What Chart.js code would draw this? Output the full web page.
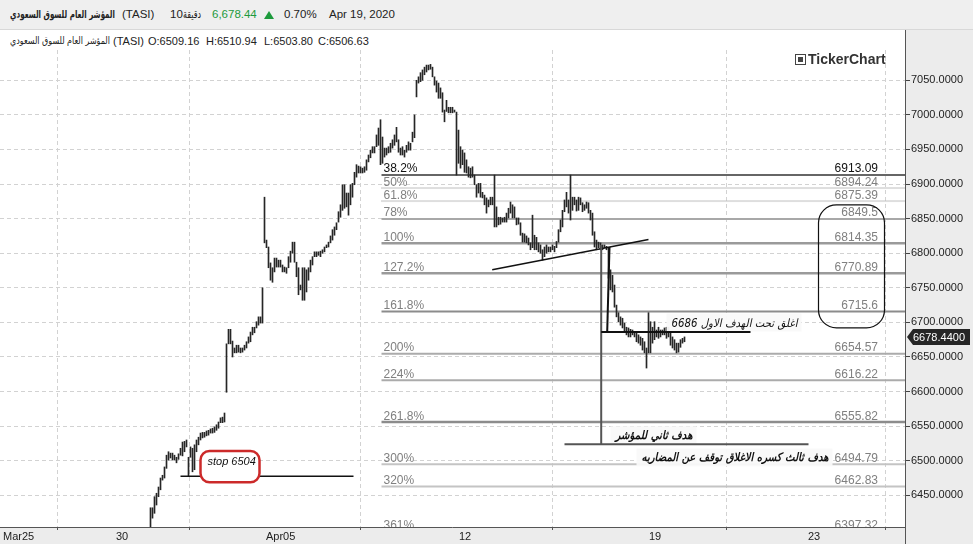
<!DOCTYPE html>
<html>
<head>
<meta charset="utf-8">
<script src="https://cdn.jsdelivr.net/npm/chart.js@4.4.1/dist/chart.umd.min.js"></script>
<style>
  html, body { margin: 0; padding: 0; background: #fff; }
  body { width: 973px; height: 544px; position: relative; overflow: hidden; font-family: "Liberation Sans", Arial, sans-serif; color: #222; }
  canvas { position: absolute; left: 0; top: 0; }
  #bar1 { position: absolute; left: 0; top: 0; width: 973px; height: 30px; background: #efefef; border-bottom: 1px solid #d8d8d8; box-sizing: border-box; }
  #bar2 { position: absolute; left: 0; top: 30px; width: 905px; height: 20px; background: #fff; }
  .t { position: absolute; white-space: nowrap; transform-origin: 0 50%; }
  .h1 { top: 8px; font-size: 11.5px; }
  .h2 { top: 35px; font-size: 11px; }
  .ar { font-family: "DejaVu Sans", sans-serif; }
  #tri { position: absolute; left: 264px; top: 11px; width: 0; height: 0; border-left: 5px solid transparent; border-right: 5px solid transparent; border-bottom: 8px solid #1d9a3c; }
  #logo { position: absolute; left: 808px; top: 51px; font-size: 14px; font-weight: bold; color: #333; }
  #icon { position: absolute; left: 795px; top: 54px; width: 9px; height: 9px; border: 1px solid #444; }
  #icon:after { content: ""; position: absolute; left: 2px; top: 2px; width: 5px; height: 5px; background: #444; }
</style>
</head>
<body>
<canvas id="c" width="973" height="544"></canvas>

<div id="bar1"></div>
<div class="t h1 ar" dir="rtl" data-w="105" style="left:10px;font-weight:bold;font-size:11px;top:8px">المؤشر العام للسوق السعودي</div>
<div class="t h1" style="left:122px">(TASI)</div>
<div class="t h1" style="left:170px">10</div>
<div class="t h1 ar" dir="rtl" data-w="18" style="left:183px;font-size:11px">دقيقة</div>
<div class="t h1" style="left:212px;color:#1d9a3c">6,678.44</div>
<div id="tri"></div>
<div class="t h1" style="left:284px">0.70%</div>
<div class="t h1" style="left:329px">Apr 19, 2020</div>

<div id="bar2"></div>
<div class="t h2 ar" dir="rtl" data-w="100" style="left:10px;font-size:10px;top:35px">المؤشر العام للسوق السعودي</div>
<div class="t h2" style="left:113px">(TASI)</div>
<div class="t h2" style="left:148px">O:6509.16</div>
<div class="t h2" style="left:206px">H:6510.94</div>
<div class="t h2" style="left:264px">L:6503.80</div>
<div class="t h2" style="left:318px">C:6506.63</div>

<div id="icon"></div>
<div id="logo">TickerChart</div>

<script>
// squeeze the arabic header captions to the width they take in the terminal font
document.querySelectorAll('[data-w]').forEach(el => {
  const w = el.getBoundingClientRect().width;
  el.style.transform = 'scaleX(' + (Number(el.dataset.w) / w) + ')';
});

// 10-minute bars, high / low (one bar per step)
const barHigh = [
  6432,6432,6448,6453,6462,6475,6479,6491,6508,6513,6511,6511,6508,6505,6510,6518,6527,6528,6530,6505,
  6520,6518,6523,6530,6534,6540,6541,6541,6543,6544,6546,6547,6549,6552,6556,6562,6563,6569,6669,6690,
  6690,6673,6663,6667,6667,6663,6663,6667,6672,6679,6686,6693,6693,6701,6708,6708,6750,6881,6819,6809,
  6786,6779,6793,6793,6790,6790,6783,6780,6779,6795,6803,6816,6816,6787,6779,6754,6779,6779,6776,6779,
  6790,6795,6802,6802,6802,6803,6805,6809,6812,6816,6825,6834,6838,6844,6860,6870,6899,6899,6887,6887,
  6899,6901,6917,6928,6926,6925,6923,6925,6935,6942,6949,6954,6954,6971,6981,6993,6968,6952,6952,6954,
  6959,6964,6971,6982,6964,6952,6954,6949,6956,6961,6959,6975,7000,7050,7055,7061,7065,7069,7072,7072,
  7073,7069,7055,7049,7046,7039,7032,7007,7021,7011,7011,7011,7007,7004,6978,6954,6949,6945,6935,6925,
  6923,6925,6913,6899,6901,6901,6888,6884,6880,6877,6881,6881,6913,6867,6852,6852,6851,6852,6858,6865,
  6874,6870,6867,6851,6851,6844,6829,6828,6825,6822,6815,6855,6826,6823,6815,6812,6805,6809,6812,6809,
  6809,6812,6810,6817,6834,6848,6862,6877,6888,6877,6913,6881,6881,6877,6881,6880,6873,6870,6874,6873,
  6862,6858,6831,6819,6816,6815,6812,6812,6810,6808,6776,6768,6754,6725,6714,6708,6706,6699,6693,6692,
  6690,6689,6686,6685,6682,6679,6677,6672,6663,6714,6701,6693,6701,6689,6693,6689,6689,6692,6693,6693,
  6686,6679,6675,6670,6670,6675,6677,6679
];
const barLow = [
  6395,6417,6424,6436,6448,6458,6472,6475,6489,6501,6504,6501,6501,6497,6502,6508,6507,6513,6520,6478,
  6505,6484,6487,6513,6523,6530,6533,6534,6536,6537,6540,6540,6541,6544,6547,6555,6555,6556,6599,6669,
  6669,6650,6656,6656,6657,6656,6657,6660,6663,6670,6672,6682,6685,6692,6696,6699,6699,6815,6808,6779,
  6761,6758,6773,6780,6780,6780,6773,6773,6771,6779,6787,6800,6787,6766,6740,6747,6732,6732,6744,6761,
  6773,6783,6795,6795,6797,6795,6800,6802,6808,6809,6815,6819,6826,6834,6845,6852,6862,6865,6867,6855,
  6870,6881,6899,6910,6916,6916,6916,6917,6920,6932,6938,6945,6945,6954,6956,6928,6930,6939,6942,6945,
  6946,6952,6956,6961,6946,6942,6942,6939,6946,6949,6949,6961,6967,7026,7046,7048,7050,7058,7062,7065,
  7066,7055,7043,7033,7024,7024,7004,6990,7005,7003,7003,7003,7004,6913,6930,6923,6928,6917,6916,6910,
  6909,6910,6899,6881,6887,6881,6880,6870,6858,6867,6870,6870,6838,6838,6841,6842,6845,6845,6845,6851,
  6858,6851,6851,6841,6842,6826,6816,6816,6815,6812,6805,6808,6805,6805,6802,6800,6790,6795,6800,6802,
  6802,6805,6802,6808,6816,6831,6838,6860,6867,6858,6848,6862,6870,6861,6862,6870,6860,6862,6865,6858,
  6848,6826,6809,6805,6808,6805,6805,6808,6805,6764,6747,6744,6722,6708,6701,6696,6692,6686,6682,6679,
  6679,6682,6679,6672,6670,6667,6660,6656,6634,6656,6656,6670,6675,6679,6677,6679,6682,6682,6677,6679,
  6667,6663,6660,6656,6657,6664,6670,6672
];
const lastClose = 6678.44;

// date ticks (bar-index position of each day's first bar)
const dayPos = [-74.75, -18.25, 56.75, 153.25, 248.25, 327.75];
const dayLabels = ['Mar25', '30', 'Apr05', '12', '19', '23'];

// fibonacci levels
const fibPct = ['38.2%', '50%', '61.8%', '78%', '100%', '127.2%', '161.8%', '200%', '224%', '261.8%', '300%', '320%', '361%'];
const fibVal = [6913.09, 6894.24, 6875.39, 6849.5, 6814.35, 6770.89, 6715.6, 6654.57, 6616.22, 6555.82, 6494.79, 6462.83, 6397.32];
const fibFrom = 115.5;   // bar index where the levels start
const fibTextEnd = 363.75;

// drawn lines [x1, y1, x2, y2] in bar index / price
const stopLine = [15, 6477.5, 101.5, 6477.5];
const trendLine = [170.85, 6776, 249, 6820];
const dropLine = [225.35, 6812, 225.35, 6524];
const breakLine = [228.35, 6686.5, 229.5, 6809];
const target1 = [225.35, 6686, 300, 6686];
const target2 = [207, 6524, 329, 6524];
const levelBox = [334, 6870, 367, 6692];
const stopBox = [25, 6514, 54.5, 6469];
const stopText = [28.5, 6494];

const notes = [
  { text: 'اغلق تحت الهدف الاول 6686', x: 323.5, y: 6694, bold: false },
  { text: 'هدف ثاني للمؤشر', x: 271, y: 6531, bold: true },
  { text: 'هدف ثالث كسره الاغلاق توقف عن المضاربه', x: 339, y: 6499, bold: true }
];
const noteWidth = [126, 77, 187];

const fibStyle = [
  { c: '#666', w: 2, d: [] }, { c: '#bdbdbd', w: 2, d: [1, 1] }, { c: '#bdbdbd', w: 2, d: [1, 1] },
  { c: '#a8a8a8', w: 2, d: [] }, { c: '#9a9a9a', w: 2.5, d: [] }, { c: '#9a9a9a', w: 2.5, d: [] },
  { c: '#8c8c8c', w: 2, d: [] }, { c: '#ababab', w: 2, d: [] }, { c: '#ababab', w: 2, d: [] },
  { c: '#8c8c8c', w: 2.5, d: [] }, { c: '#c4c4c4', w: 2, d: [] }, { c: '#c4c4c4', w: 2, d: [] },
  { c: '#aaa', w: 2, d: [] }
];

const bars = barHigh.map((h, i) => ({ x: i, y: [barLow[i], h] }));

function seg(c, l, color, w) {
  const ctx = c.ctx, X = c.scales.x, Y = c.scales.y;
  ctx.beginPath();
  ctx.strokeStyle = color;
  ctx.lineWidth = w;
  ctx.moveTo(X.getPixelForValue(l[0]), Y.getPixelForValue(l[1]));
  ctx.lineTo(X.getPixelForValue(l[2]), Y.getPixelForValue(l[3]));
  ctx.stroke();
}

const drawing = {
  id: 'drawing',
  beforeDraw(c) {
    const ctx = c.ctx, a = c.chartArea;
    ctx.save();
    ctx.fillStyle = '#fff';
    ctx.fillRect(0, 0, c.width, c.height);
    ctx.fillStyle = '#ececec';
    ctx.fillRect(a.right, 30, c.width - a.right, c.height - 30);
    ctx.fillRect(0, a.bottom, a.right, c.height - a.bottom);
    ctx.restore();
  },
  beforeDatasetsDraw(c) {
    const ctx = c.ctx, a = c.chartArea, X = c.scales.x, Y = c.scales.y;
    ctx.save();
    ctx.beginPath();
    ctx.rect(a.left, a.top, a.right - a.left, a.bottom - a.top);
    ctx.clip();
    const x0 = X.getPixelForValue(fibFrom);
    const xt = X.getPixelForValue(fibTextEnd);
    fibVal.forEach((v, k) => {
      const y = Y.getPixelForValue(v);
      const s = fibStyle[k];
      ctx.setLineDash(s.d);
      ctx.beginPath();
      ctx.strokeStyle = s.c;
      ctx.lineWidth = s.w;
      ctx.moveTo(x0, y);
      ctx.lineTo(a.right, y);
      ctx.stroke();
      ctx.setLineDash([]);
      ctx.font = '12px "Liberation Sans", Arial, sans-serif';
      ctx.fillStyle = k === 0 ? '#111' : '#808080';
      ctx.textBaseline = 'alphabetic';
      ctx.textAlign = 'left';
      ctx.fillText(fibPct[k], x0 + 2, y - 2.5);
      ctx.textAlign = 'right';
      ctx.fillText(String(v), xt, y - 2.5);
    });
    ctx.restore();
  },
  afterDatasetsDraw(c) {
    const ctx = c.ctx, a = c.chartArea, X = c.scales.x, Y = c.scales.y;
    ctx.save();
    ctx.beginPath();
    ctx.rect(a.left, a.top, a.right - a.left, a.bottom - a.top);
    ctx.clip();

    // arabic notes (boxes sit under the drawn lines)
    notes.forEach((n, k) => {
      ctx.font = (n.bold ? 'italic bold ' : 'italic ') + '11.5px "DejaVu Sans", sans-serif';
      const xr = X.getPixelForValue(n.x), yb = Y.getPixelForValue(n.y);
      const w = ctx.measureText(n.text).width;
      const sx = noteWidth[k] / w;
      ctx.fillStyle = 'rgba(249,249,249,0.95)';
      ctx.fillRect(xr - noteWidth[k] - 5, yb - 13, noteWidth[k] + 9, 18);
      ctx.save();
      ctx.translate(xr, yb);
      ctx.scale(sx, 1);
      ctx.fillStyle = '#111';
      ctx.textAlign = 'right';
      ctx.textBaseline = 'alphabetic';
      ctx.fillText(n.text, 0, 0);
      ctx.restore();
    });

    seg(c, stopLine, '#111', 1.5);
    seg(c, trendLine, '#111', 1.5);
    seg(c, dropLine, '#555', 2);
    seg(c, breakLine, '#111', 2);
    seg(c, target1, '#111', 2);
    seg(c, target2, '#555', 2);

    // rounded box around the upper targets
    let bx = X.getPixelForValue(levelBox[0]), by = Y.getPixelForValue(levelBox[1]);
    let bw = X.getPixelForValue(levelBox[2]) - bx, bh = Y.getPixelForValue(levelBox[3]) - by;
    ctx.beginPath();
    ctx.strokeStyle = '#111';
    ctx.lineWidth = 1.2;
    ctx.roundRect(bx, by, bw, bh, 18);
    ctx.stroke();

    // stop label
    bx = X.getPixelForValue(stopBox[0]); by = Y.getPixelForValue(stopBox[1]);
    bw = X.getPixelForValue(stopBox[2]) - bx; bh = Y.getPixelForValue(stopBox[3]) - by;
    ctx.beginPath();
    ctx.fillStyle = '#fff';
    ctx.strokeStyle = '#cc2a2a';
    ctx.lineWidth = 2.5;
    ctx.roundRect(bx, by, bw, bh, 9);
    ctx.fill();
    ctx.stroke();
    ctx.fillStyle = '#111';
    ctx.font = 'italic 11px "Liberation Sans", Arial, sans-serif';
    ctx.textAlign = 'left';
    ctx.textBaseline = 'alphabetic';
    ctx.fillText('stop 6504', X.getPixelForValue(stopText[0]), Y.getPixelForValue(stopText[1]));
    ctx.restore();

    // axis frame
    ctx.save();
    ctx.strokeStyle = '#555';
    ctx.lineWidth = 1;
    ctx.beginPath();
    ctx.moveTo(a.right + 0.5, 30);
    ctx.lineTo(a.right + 0.5, c.height);
    ctx.moveTo(0, a.bottom + 0.5);
    ctx.lineTo(a.right, a.bottom + 0.5);
    ctx.stroke();

    // last price tag
    const yp = Math.round(Y.getPixelForValue(lastClose));
    ctx.fillStyle = '#262626';
    ctx.beginPath();
    ctx.moveTo(a.right + 2, yp);
    ctx.lineTo(a.right + 8, yp - 8);
    ctx.lineTo(c.width - 3, yp - 8);
    ctx.lineTo(c.width - 3, yp + 8);
    ctx.lineTo(a.right + 8, yp + 8);
    ctx.closePath();
    ctx.fill();
    ctx.fillStyle = '#fff';
    ctx.font = '11px "Liberation Sans", Arial, sans-serif';
    ctx.textAlign = 'left';
    ctx.textBaseline = 'middle';
    ctx.fillText(lastClose.toFixed(4), a.right + 8, yp + 0.5);
    ctx.restore();
  }
};

new Chart(document.getElementById('c'), {
  type: 'bar',
  data: {
    datasets: [{
      data: bars,
      backgroundColor: '#262626',
      borderWidth: 0,
      barThickness: 1,
      grouped: false
    }]
  },
  options: {
    responsive: false,
    animation: false,
    events: [],
    layout: { padding: { top: 50, left: 0, right: 0, bottom: 0 } },
    plugins: { legend: { display: false }, tooltip: { enabled: false } },
    scales: {
      x: {
        type: 'linear',
        offset: false,
        min: -75.25,
        max: 377.25,
        afterBuildTicks: s => { s.ticks = dayPos.map(v => ({ value: v })); },
        afterFit: s => { s.height = 17; },
        ticks: {
          autoSkip: false,
          maxRotation: 0,
          align: 'start',
          labelOffset: 2,
          padding: 0,
          color: '#222',
          font: { family: '"Liberation Sans", Arial, sans-serif', size: 11 },
          callback: v => dayLabels[dayPos.indexOf(v)]
        },
        grid: { color: '#d2d2d2', tickColor: '#555', tickLength: 3, tickBorderDash: [] },
        border: { display: false, dash: [4, 3] }
      },
      y: {
        position: 'right',
        min: 6404.2,
        max: 7093.8,
        afterBuildTicks: s => {
          const t = [];
          for (let v = 6450; v <= 7050; v += 50) t.push({ value: v });
          s.ticks = t;
        },
        afterFit: s => { s.width = 68; },
        ticks: {
          padding: 1,
          color: '#222',
          font: { family: '"Liberation Sans", Arial, sans-serif', size: 11 },
          callback: v => v.toFixed(4)
        },
        grid: { color: '#d2d2d2', tickColor: '#444', tickLength: 5, tickBorderDash: [] },
        border: { display: false, dash: [4, 3] }
      }
    }
  },
  plugins: [drawing]
});
</script>
</body>
</html>
